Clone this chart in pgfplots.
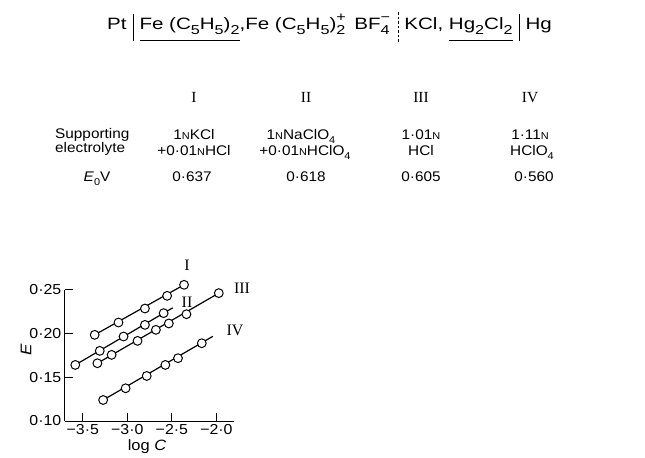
\documentclass[border=0pt]{standalone}
\usepackage{fontspec}
\setmainfont{Liberation Sans}[FakeStretch=1.1]
\newfontfamily\hdr{Liberation Sans}[FakeStretch=1.25]
\newfontfamily\serif{Liberation Serif}
\usepackage{pgfplots}
\pgfplotsset{compat=1.18}

\newcommand\fs[1]{\fontsize{#1}{#1}\selectfont}
% table sub/superscripts
\newcommand\sub[1]{\raisebox{-3.5bp}{\fs{10}#1}}
\newcommand\N{{\fs{10}N}}
% header sub/superscripts
\newcommand\hsub[1]{\raisebox{-4.5bp}{\fs{13}#1}}
\newcommand\hsps[2]{\makebox[0pt][l]{\raisebox{8.5bp}{\fs{13}#1}}\raisebox{-4.5bp}{\fs{13}#2}}
\newcommand\sbar{\rule[-11bp]{0.9bp}{27bp}}
\newcommand\dbar{\lower13bp\vbox to 32bp{\cleaders\vbox to 4.5bp{\vfil\hrule width 0.8bp height 2.7bp\vfil}\vfill}}
\newcommand\ul[1]{\setbox0\hbox{#1}\rlap{\rule[-10.5bp]{\wd0}{0.8bp}}\box0}

\begin{document}
\begin{tikzpicture}[x=1bp,y=1bp]
\useasboundingbox (0,0) rectangle (645,458);

% cell diagram
\node[anchor=base west, inner sep=0, font=\hdr\fs{16.5}] at (107,428)
  {Pt\hspace{6bp}\sbar\hspace{6bp}\ul{Fe (C\hsub5H\hsub5)\hsub2},Fe (C\hsub5H\hsub5)\hsps{+}{2}\hspace{9bp}BF\hsps{\textminus}{4}\hspace{8bp}\dbar\hspace{6bp}KCl, \ul{Hg\hsub2Cl\hsub2}\hspace{6bp}\sbar\hspace{6bp}Hg};

% table
\begin{scope}[every node/.style={anchor=base, inner sep=0, font=\fs{14}}]
\node[font=\serif\fs{15.5}] at (194,355) {I};
\node[font=\serif\fs{15.5}] at (306,355) {II};
\node[font=\serif\fs{15.5}] at (421,355) {III};
\node[font=\serif\fs{15.5}] at (530,355) {IV};
\node[anchor=base west] at (55,319) {Supporting};
\node[anchor=base west] at (55,305) {electrolyte};
\node at (194,318) {1\N KCl};
\node at (301,318) {1\N NaClO\sub4};
\node at (421,318) {1·01\N};
\node at (530,318) {1·11\N};
\node at (194,302) {+0·01\N HCl};
\node at (305,302) {+0·01\N HClO\sub4};
\node at (421,302) {HCl};
\node at (532,302) {HClO\sub4};
\node at (97,276) {\textit{E}\sub0V};
\node at (192,276) {0·637};
\node at (306,276) {0·618};
\node at (421,276) {0·605};
\node at (534,276) {0·560};
\end{scope}

\begin{axis}[
  at={(72.7,42.3)}, anchor=south west,
  scale only axis, width=169bp, height=131.2bp,
  xmin=-3.702, xmax=-1.805, ymin=0.10, ymax=0.25,
  axis x line*=bottom, axis y line*=left,
  axis line style={-, line width=0.9bp},
  tick align=inside, major tick length=8bp,
  tick style={line width=0.9bp, black},
  xtick={-3.5,-3,-2.5,-2}, xticklabels={−3·5,−3·0,−2·5,−2·0},
  ytick={0.10,0.15,0.20,0.25}, yticklabels={0·10,0·15,0·20,0·25},
  ticklabel style={font=\fs{14.5}},
  clip=false,
]
% fitted lines
\addplot[black, line width=1.2bp] coordinates {(-3.366,0.1985) (-2.363,0.2557)};
\addplot[black, line width=1.2bp] coordinates {(-3.584,0.1641) (-2.490,0.2294)};
\addplot[black, line width=1.2bp] coordinates {(-3.336,0.1660) (-1.973,0.2462)};
\addplot[black, line width=1.2bp] coordinates {(-3.271,0.1240) (-2.040,0.1968)};
% I
\addplot[only marks, mark=*, mark size=4.4bp, mark options={fill=white, draw=black, line width=1bp}] table {
-3.366 0.1985
-3.099 0.2126
-2.802 0.2286
-2.553 0.2431
-2.363 0.2557
};
% II
\addplot[only marks, mark=*, mark size=4.4bp, mark options={fill=white, draw=black, line width=1bp}] table {
-3.584 0.1641
-3.309 0.1802
-3.042 0.1966
-2.802 0.2099
-2.592 0.2233
};
% III
\addplot[only marks, mark=*, mark size=4.4bp, mark options={fill=white, draw=black, line width=1bp}] table {
-3.336 0.1660
-3.176 0.1756
-2.885 0.1916
-2.679 0.2042
-2.534 0.2115
-2.336 0.2221
-1.973 0.2462
};
% IV
\addplot[only marks, mark=*, mark size=4.4bp, mark options={fill=white, draw=black, line width=1bp}] table {
-3.271 0.1240
-3.019 0.1374
-2.782 0.1515
-2.573 0.1641
-2.431 0.1718
-2.164 0.1889
};
\end{axis}

\begin{scope}[every node/.style={font=\serif\fs{16}}]
\node at (187,193) {I};
\node at (187,156) {II};
\node at (242,170) {III};
\node at (235,128) {IV};
\end{scope}
\node[rotate=90, font=\fs{15.5}\itshape] at (26,108) {E};
\node[anchor=base, font=\fs{15}] at (147,7) {log \textit{C}};
\end{tikzpicture}
\end{document}
